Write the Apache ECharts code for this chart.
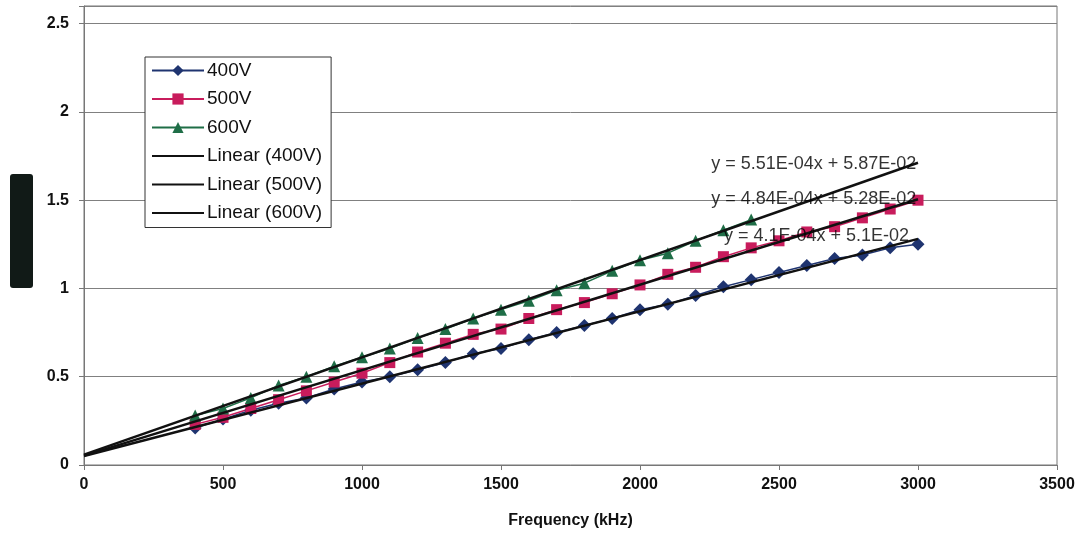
<!DOCTYPE html>
<html>
<head>
<meta charset="utf-8">
<script src="https://cdn.jsdelivr.net/npm/echarts@6/dist/echarts.min.js"></script>
<style>
  html, body { margin: 0; padding: 0; background: #fff; }
  #main { width: 1078px; height: 538px; }
</style>
</head>
<body>
<div id="main"></div>
<script>
  // measured points (kHz -> value)
  var freq = [400, 500, 600, 700, 800, 900, 1000, 1100, 1200, 1300, 1400, 1500, 1600, 1700,
    1800, 1900, 2000, 2100, 2200, 2300, 2400, 2500, 2600, 2700, 2800, 2900, 3000]
  var v400 = [0.21, 0.26, 0.31, 0.35, 0.38, 0.43, 0.47, 0.50, 0.54, 0.58, 0.63, 0.66, 0.71, 0.75,
    0.79, 0.83, 0.88, 0.91, 0.96, 1.01, 1.05, 1.09, 1.13, 1.17, 1.19, 1.23, 1.25]
  var v500 = [0.23, 0.27, 0.32, 0.37, 0.42, 0.47, 0.52, 0.58, 0.64, 0.69, 0.74, 0.77, 0.83, 0.88,
    0.92, 0.97, 1.02, 1.08, 1.12, 1.18, 1.23, 1.27, 1.32, 1.35, 1.40, 1.45, 1.50]
  var freq600 = [400, 500, 600, 700, 800, 900, 1000, 1100, 1200, 1300, 1400, 1500, 1600, 1700,
    1800, 1900, 2000, 2100, 2200, 2300, 2400]
  var v600 = [0.28, 0.32, 0.38, 0.45, 0.50, 0.56, 0.61, 0.66, 0.72, 0.77, 0.83, 0.88, 0.93, 0.99,
    1.03, 1.10, 1.16, 1.20, 1.27, 1.33, 1.39]

  // trendline ends
  var fitX = [0, 3000]
  var fit400 = [0.051, 1.281]
  var fit500 = [0.0528, 1.505]
  var fit600 = [0.0587, 1.712]

  // trendline equation labels and where they sit
  var fitText = ['y = 5.51E-04x + 5.87E-02', 'y = 4.84E-04x + 5.28E-02', 'y = 4.1E-04x + 5.1E-02']
  var fitTextX = [2625, 2625, 2635]
  var fitTextY = [1.705, 1.505, 1.295]

  var dataNames = ['400V', '500V', '600V']
  var fitNames = ['Linear (400V)', 'Linear (500V)', 'Linear (600V)']

  function pairs(xs, ys) {
    return xs.map(function (x, i) { return [x, ys[i]] })
  }

  var font = "'Liberation Sans', Arial, sans-serif"

  function dataSeries(name, xs, ys, color, symbol, size) {
    return {
      name: name,
      type: 'line',
      data: pairs(xs, ys),
      symbol: symbol,
      symbolSize: size,
      z: 2,
      lineStyle: { color: color, width: 1.5 },
      itemStyle: { color: color },
      animation: false
    }
  }

  function fitSeries(name, ys) {
    return {
      name: name,
      type: 'line',
      data: pairs(fitX, ys),
      symbol: 'none',
      z: 3,
      lineStyle: { color: '#111', width: 2.5 },
      itemStyle: { color: '#111' },
      animation: false
    }
  }

  var legendData = dataNames.map(function (n) { return { name: n } }).concat(
    fitNames.map(function (n) {
      return { name: n, itemStyle: { color: 'rgba(0,0,0,0)', borderWidth: 0 } }
    }))

  var chart = echarts.init(document.getElementById('main'))
  chart.setOption({
    backgroundColor: '#fff',
    grid: {
      left: 84, right: 21, top: 6, bottom: 73,
      show: true, borderColor: '#777', borderWidth: 1
    },
    legend: {
      data: legendData,
      orient: 'vertical',
      left: 145,
      top: 57,
      padding: [4, 9, 5, 6],
      itemGap: 9.5,
      itemWidth: 52,
      itemHeight: 14,
      backgroundColor: '#fff',
      borderColor: '#333',
      borderWidth: 1,
      borderRadius: 0,
      textStyle: { fontFamily: font, fontSize: 19, color: '#111', padding: [0, 0, 0, -2] }
    },
    xAxis: {
      type: 'value',
      min: 0,
      max: 3500,
      interval: 500,
      name: 'Frequency (kHz)',
      nameLocation: 'middle',
      nameGap: 48,
      nameTextStyle: { fontFamily: font, fontSize: 16, fontWeight: 'bold', color: '#111' },
      axisLine: { show: true, lineStyle: { color: '#777' } },
      axisTick: { show: true, length: 5, lineStyle: { color: '#777' } },
      axisLabel: {
        fontFamily: font, fontSize: 16, fontWeight: 'bold', color: '#111', margin: 12,
        formatter: function (v) { return String(v) }
      },
      splitLine: { show: false }
    },
    yAxis: {
      type: 'value',
      min: 0,
      max: 2.6,
      interval: 0.5,
      axisLine: { show: true, lineStyle: { color: '#777' } },
      axisTick: { show: true, length: 5, lineStyle: { color: '#777' } },
      axisLabel: {
        fontFamily: font, fontSize: 16, fontWeight: 'bold', color: '#111', margin: 15,
        formatter: function (v) { return v > 2.55 ? '' : String(v) }
      },
      splitLine: { show: true, lineStyle: { color: '#808080', width: 1 } }
    },
    graphic: [{
      type: 'rect',
      left: 10,
      top: 174,
      shape: { width: 23, height: 114, r: 3 },
      style: { fill: '#111a17' }
    }],
    series: [
      dataSeries('400V', freq, v400, '#1f3470', 'diamond', 13),
      dataSeries('500V', freq, v500, '#c81c5c', 'rect', 11),
      dataSeries('600V', freq600, v600, '#1f6e47', 'triangle', 12),
      fitSeries('Linear (400V)', fit400),
      fitSeries('Linear (500V)', fit500),
      fitSeries('Linear (600V)', fit600),
      {
        name: 'eq',
        type: 'scatter',
        data: pairs(fitTextX, fitTextY),
        symbol: 'circle',
        symbolSize: 1,
        z: 5,
        itemStyle: { color: 'rgba(0,0,0,0)' },
        label: {
          show: true,
          position: 'inside',
          fontFamily: font,
          fontSize: 18,
          color: '#000',
          formatter: function (p) { return fitText[p.dataIndex] }
        },
        animation: false
      }
    ]
  })
</script>
</body>
</html>
